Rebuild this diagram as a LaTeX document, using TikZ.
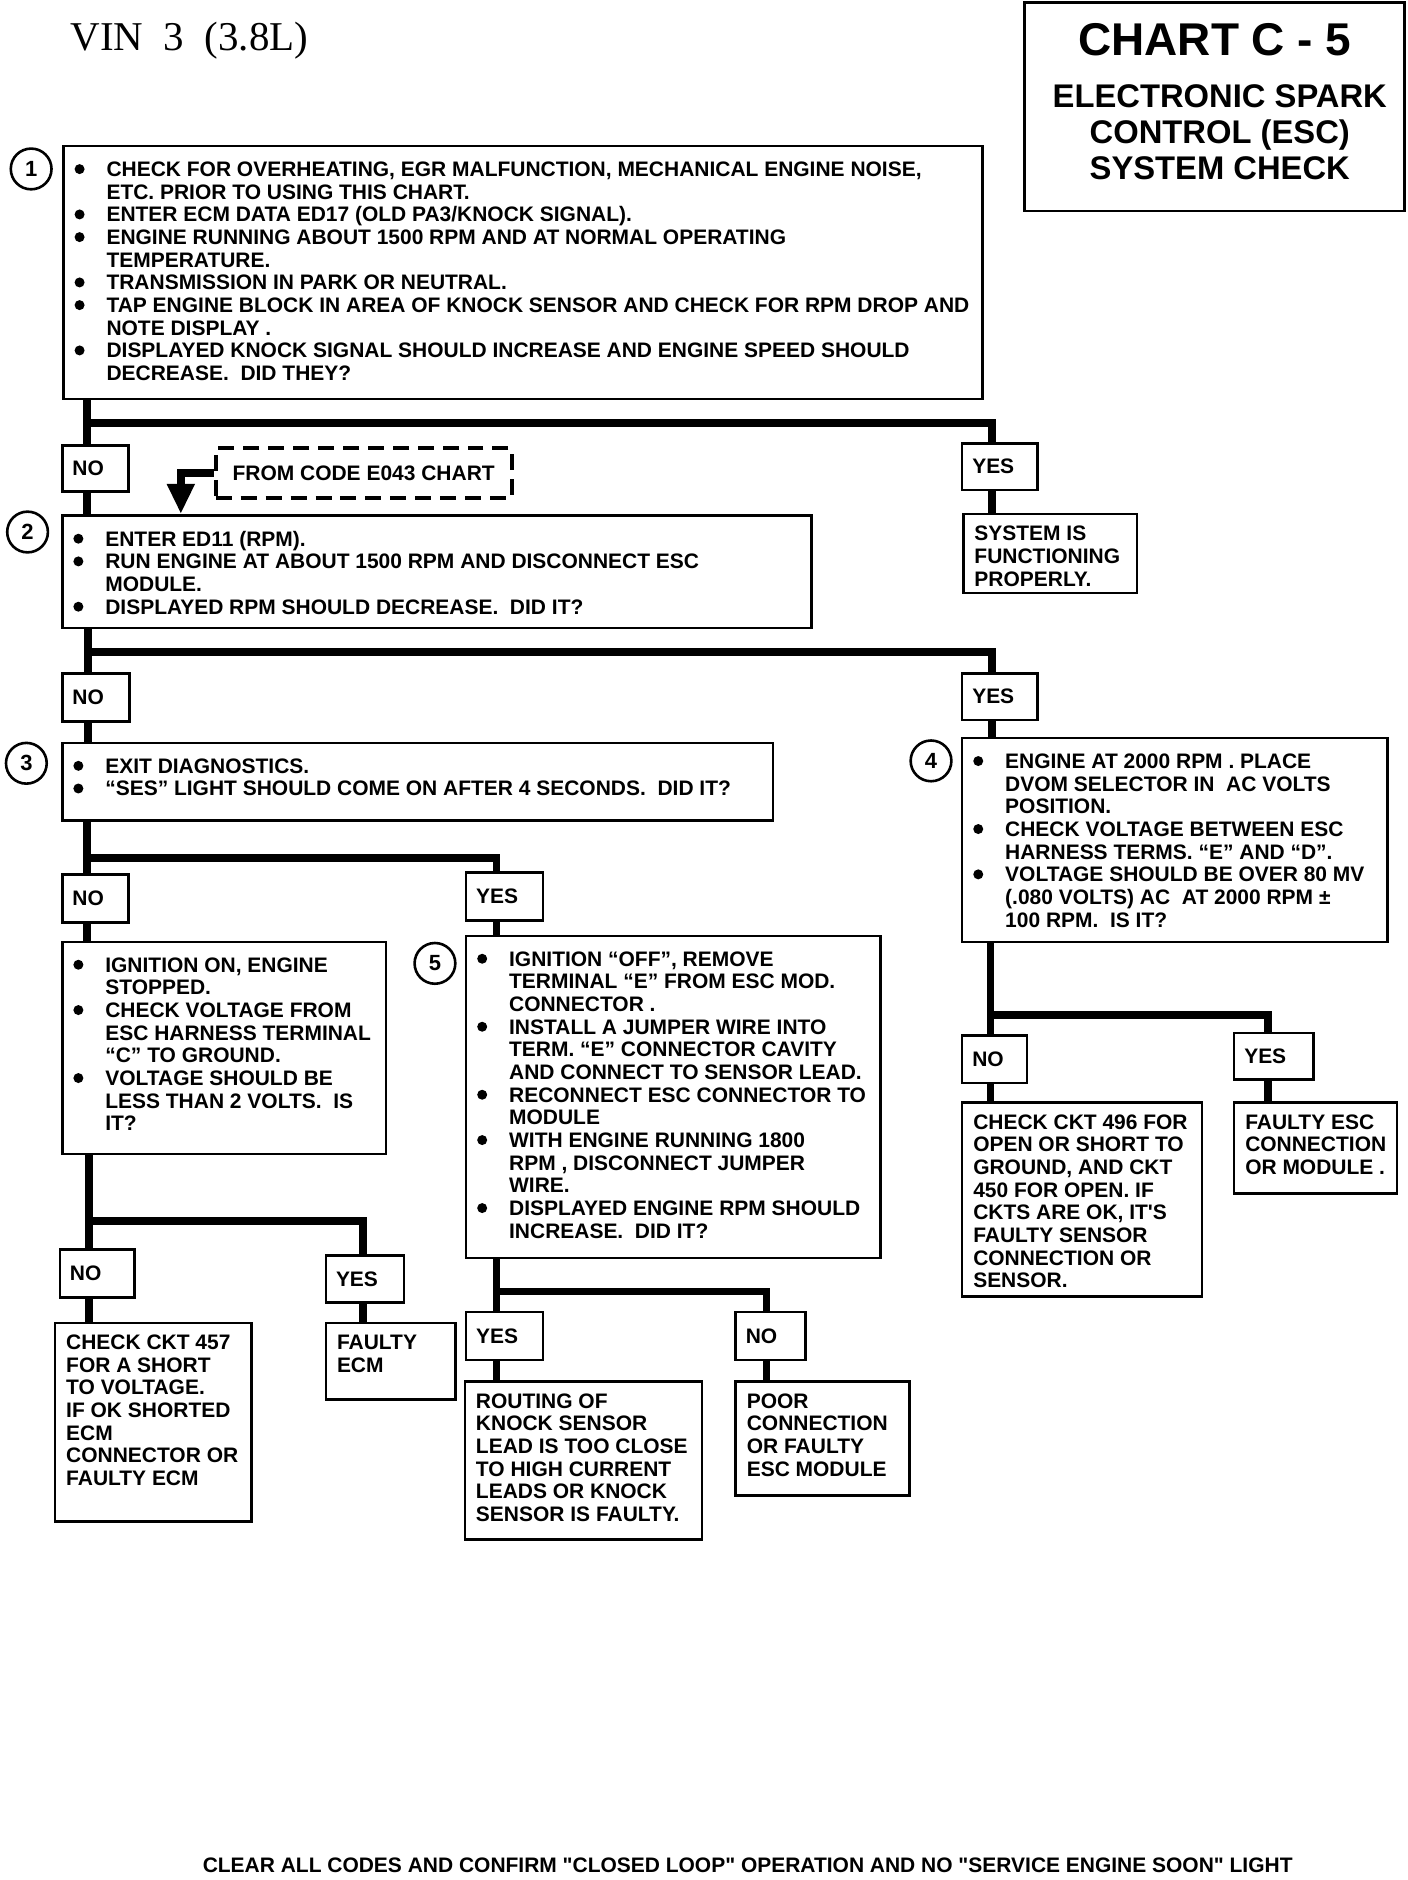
\documentclass[tikz,border=0pt]{standalone}
\usepackage{fontspec}
\setmainfont{Liberation Serif}
\newfontfamily\chartfont{Liberation Sans}
\usetikzlibrary{fit,calc,arrows.meta}
\newcommand\chk{\chartfont\bfseries\fontsize{10.5}{11.35}\selectfont}
\newcommand\bl{\makebox[16pt][l]{\tikz[baseline=-3.7pt]\fill (0,0) circle (2.5pt);}}
\newcommand\ind{\hspace*{16pt}}
\begin{document}
\begin{tikzpicture}[x=0.6pt,y=-0.6pt,
  frame/.style={draw,line width=1.3pt,inner sep=0pt},
  ans/.style={frame,label={[font=\chk,anchor=west,inner xsep=5.5pt]west:#1}},
  txt/.style={anchor=north west,align=left,inner xsep=6pt,inner ysep=6.5pt,font=\chk},
  btxt/.style={txt,inner ysep=8.3pt},
  num/.style={draw,circle,line width=1.3pt,minimum size=20.4pt,inner sep=0pt,font=\chartfont\bfseries\fontsize{11}{11}\selectfont},
  wire/.style={line width=3.9pt}]
\useasboundingbox (0,0) rectangle (1175,1569);

% heading
\node[anchor=base west,font=\fontsize{20.5}{20.5}\selectfont] (vin) at (53,42) {VIN\hspace{0.5em}3\hspace{0.5em}(3.8L)};
\node[frame,fit={(855,2) (1172,176)}] (chart) {};
\node[font=\chartfont\bfseries\fontsize{23}{23}\selectfont] (ttl) at (1014,33) {CHART C - 5};
\node[align=center,font=\chartfont\bfseries\fontsize{16.4}{18}\selectfont] (sub) at (1018,110) {ELECTRONIC SPARK\\CONTROL (ESC)\\SYSTEM CHECK};

% step 1
\node[num] (n1) at (26,141) {1};
\node[frame,fit={(53,122) (820,333)}] (s1) {};
\node[btxt] (t1) at (s1.north west) {\bl CHECK FOR OVERHEATING, EGR MALFUNCTION, MECHANICAL ENGINE NOISE,\\
\ind ETC. PRIOR TO USING THIS CHART.\\
\bl ENTER ECM DATA ED17 (OLD PA3/KNOCK SIGNAL).\\
\bl ENGINE RUNNING ABOUT 1500 RPM AND AT NORMAL OPERATING\\
\ind TEMPERATURE.\\
\bl TRANSMISSION IN PARK OR NEUTRAL.\\
\bl TAP ENGINE BLOCK IN AREA OF KNOCK SENSOR AND CHECK FOR RPM DROP AND\\
\ind NOTE DISPLAY .\\
\bl DISPLAYED KNOCK SIGNAL SHOULD INCREASE AND ENGINE SPEED SHOULD\\
\ind DECREASE.\ \ DID THEY?};

\node[ans=NO,fit={(52,372) (107,410)}] (no1) {};
\node[ans=YES,fit={(803,370) (866,409)}] (yes1) {};
\node[frame,fit={(804,429) (949,495)}] (ok1) {};
\node[txt] (tok1) at (ok1.north west) {SYSTEM IS\\FUNCTIONING\\PROPERLY.};

% step 2
\node[frame,dash pattern=on 8pt off 4.5pt,line width=2pt,fit={(180,374) (427,416)},
  label={[font=\chk]center:FROM CODE E043 CHART}] (e043) {};
\node[num] (n2) at (23,444) {2};
\node[frame,fit={(52,430) (677,524)}] (s2) {};
\node[btxt] (t2) at (s2.north west) {\bl ENTER ED11 (RPM).\\
\bl RUN ENGINE AT ABOUT 1500 RPM AND DISCONNECT ESC\\
\ind MODULE.\\
\bl DISPLAYED RPM SHOULD DECREASE.\ \ DID IT?};

\node[ans=NO,fit={(52,562) (108,602)}] (no2) {};
\node[ans=YES,fit={(803,562) (866,601)}] (yes2) {};

% step 3
\node[num] (n3) at (22,637) {3};
\node[frame,fit={(52,620) (645,685)}] (s3) {};
\node[btxt] (t3) at (s3.north west) {\bl EXIT DIAGNOSTICS.\\
\bl “SES” LIGHT SHOULD COME ON AFTER 4 SECONDS.\ \ DID IT?};

% step 4
\node[num] (n4) at (777,635) {4};
\node[frame,fit={(803,616) (1158,786)}] (s4) {};
\node[btxt] (t4) at (s4.north west) {\bl ENGINE AT 2000 RPM . PLACE\\
\ind DVOM SELECTOR IN\ \ AC VOLTS\\
\ind POSITION.\\
\bl CHECK VOLTAGE BETWEEN ESC\\
\ind HARNESS TERMS. “E” AND “D”.\\
\bl VOLTAGE SHOULD BE OVER 80 MV\\
\ind (.080 VOLTS) AC\ \ AT 2000 RPM ±\\
\ind 100 RPM.\ \ IS IT?};

\node[ans=NO,fit={(52,730) (107,770)}] (no3) {};
\node[ans=YES,fit={(389,728) (453,768)}] (yes3) {};

\node[frame,fit={(52,786) (322,963)}] (v1) {};
\node[btxt] (tv1) at (v1.north west) {\bl IGNITION ON, ENGINE\\
\ind STOPPED.\\
\bl CHECK VOLTAGE FROM\\
\ind ESC HARNESS TERMINAL\\
\ind “C” TO GROUND.\\
\bl VOLTAGE SHOULD BE\\
\ind LESS THAN 2 VOLTS.\ \ IS\\
\ind IT?};

% step 5
\node[num] (n5) at (363,804) {5};
\node[frame,fit={(389,781) (735,1050)}] (s5) {};
\node[btxt] (t5) at (s5.north west) {\bl IGNITION “OFF”, REMOVE\\
\ind TERMINAL “E” FROM ESC MOD.\\
\ind CONNECTOR .\\
\bl INSTALL A JUMPER WIRE INTO\\
\ind TERM. “E” CONNECTOR CAVITY\\
\ind AND CONNECT TO SENSOR LEAD.\\
\bl RECONNECT ESC CONNECTOR TO\\
\ind MODULE\\
\bl WITH ENGINE RUNNING 1800\\
\ind RPM , DISCONNECT JUMPER\\
\ind WIRE.\\
\bl DISPLAYED ENGINE RPM SHOULD\\
\ind INCREASE.\ \ DID IT?};

% results
\node[ans=NO,fit={(50,1043) (112,1083)}] (no4) {};
\node[ans=YES,fit={(272,1048) (337,1087)}] (yes4) {};
\node[frame,fit={(46,1104) (210,1270)}] (ckt457) {};
\node[txt] (tckt457) at (ckt457.north west) {CHECK CKT 457\\FOR A SHORT\\TO VOLTAGE.\\IF OK SHORTED\\ECM\\CONNECTOR OR\\FAULTY ECM};
\node[frame,fit={(272,1104) (380,1168)}] (ecm) {};
\node[txt] (tecm) at (ecm.north west) {FAULTY\\ECM};

\node[ans=YES,fit={(389,1095) (453,1135)}] (yes5) {};
\node[ans=NO,fit={(614,1095) (672,1135)}] (no5) {};
\node[frame,fit={(388,1153) (586,1285)}] (route) {};
\node[txt] (troute) at (route.north west) {ROUTING OF\\KNOCK SENSOR\\LEAD IS TOO CLOSE\\TO HIGH CURRENT\\LEADS OR KNOCK\\SENSOR IS FAULTY.};
\node[frame,fit={(614,1153) (759,1248)}] (poor) {};
\node[txt] (tpoor) at (poor.north west) {POOR\\CONNECTION\\OR FAULTY\\ESC MODULE};

\node[ans=NO,fit={(803,864) (857,904)}] (no6) {};
\node[ans=YES,fit={(1030,862) (1096,901)}] (yes6) {};
\node[frame,fit={(803,920) (1003,1082)}] (ckt496) {};
\node[txt] (tckt496) at (ckt496.north west) {CHECK CKT 496 FOR\\OPEN OR SHORT TO\\GROUND, AND CKT\\450 FOR OPEN. IF\\CKTS ARE OK, IT'S\\FAULTY SENSOR\\CONNECTION OR\\SENSOR.};
\node[frame,fit={(1030,920) (1166,996)}] (esc) {};
\node[txt] (tesc) at (esc.north west) {FAULTY ESC\\CONNECTION\\OR MODULE .};

\node[font=\chk] (foot) at (624,1557) {CLEAR ALL CODES AND CONFIRM "CLOSED LOOP" OPERATION AND NO "SERVICE ENGINE SOON" LIGHT};

% connectors (drawn a little left of the answer box middle)
\draw[wire] ([xshift=-4pt]no1.north |- s1.south) -- ([xshift=-4pt]no1.north);
\draw[wire] ([xshift=-4pt]no1.north) ++(0,-18) -| ([xshift=-4pt]yes1.north);
\draw[wire] ([xshift=-4pt]yes1.south) -- ([xshift=-4pt]ok1.north -| yes1.south);
\draw[wire] ([xshift=-4pt]no1.south) -- ([xshift=-4pt]s2.north -| no1.south);
\draw[wire,-{Triangle[length=15pt,width=13pt]}] (e043.west) -| ($(s2.north west)+(100,0)$);

\draw[wire] ([xshift=-4pt]no2.north |- s2.south) -- ([xshift=-4pt]no2.north);
\draw[wire] ([xshift=-4pt]no2.north) ++(0,-17) -| ([xshift=-4pt]yes2.north);
\draw[wire] ([xshift=-4pt]no2.south) -- ([xshift=-4pt]s3.north -| no2.south);
\draw[wire] ([xshift=-4pt]yes2.south) -- ([xshift=-4pt]s4.north -| yes2.south);

\draw[wire] ([xshift=-4pt]no3.north |- s3.south) -- ([xshift=-4pt]no3.north);
\draw[wire] ([xshift=-4pt]no3.north) ++(0,-13) -| ([xshift=-4pt]yes3.north);
\draw[wire] ([xshift=-4pt]no3.south) -- ([xshift=-4pt]v1.north -| no3.south);
\draw[wire] ([xshift=-4pt]yes3.south) -- ([xshift=-4pt]s5.north -| yes3.south);

\draw[wire] ([xshift=-4pt]no4.north |- v1.south) -- ([xshift=-4pt]no4.north);
\draw[wire] ([xshift=-4pt]no4.north) ++(0,-23) -| ([xshift=-1pt]yes4.north);
\draw[wire] ([xshift=-4pt]no4.south) -- ([xshift=-4pt]ckt457.north -| no4.south);
\draw[wire] ([xshift=-1pt]yes4.south) -- ([xshift=-1pt]ecm.north -| yes4.south);

\draw[wire] ([xshift=-4pt]yes5.north |- s5.south) -- ([xshift=-4pt]yes5.north);
\draw[wire] ([xshift=-4pt]yes5.north) ++(0,-16) -| ([xshift=-2pt]no5.north);
\draw[wire] ([xshift=-4pt]yes5.south) -- ([xshift=-4pt]route.north -| yes5.south);
\draw[wire] ([xshift=-2pt]no5.south) -- ([xshift=-2pt]poor.north -| no5.south);

\draw[wire] ([xshift=-2pt]no6.north |- s4.south) -- ([xshift=-2pt]no6.north);
\draw[wire] ([xshift=-2pt]no6.north) ++(0,-16) -| ([xshift=-3pt]yes6.north);
\draw[wire] ([xshift=-2pt]no6.south) -- ([xshift=-2pt]ckt496.north -| no6.south);
\draw[wire] ([xshift=-3pt]yes6.south) -- ([xshift=-3pt]esc.north -| yes6.south);
\end{tikzpicture}
\end{document}
